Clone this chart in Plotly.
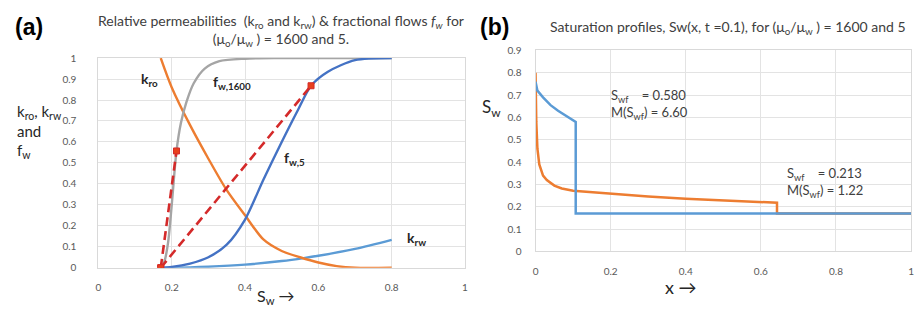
import plotly.graph_objects as go

# ---------- Panel (a) data ----------
kro_sw = [0.17, 0.2, 0.25, 0.3, 0.35, 0.4, 0.45, 0.5, 0.55, 0.6, 0.65, 0.7, 0.8]
kro_v  = [1.0, 0.86, 0.68, 0.52, 0.37, 0.25, 0.135, 0.08, 0.05, 0.025, 0.008, 0.0, 0.0]

krw_sw = [0.17, 0.25, 0.3, 0.4, 0.5, 0.56, 0.6, 0.7, 0.8]
krw_v  = [0.0, 0.002, 0.005, 0.015, 0.032, 0.046, 0.057, 0.09, 0.133]

fw1600_sw = [0.17, 0.18, 0.19, 0.2, 0.213, 0.225, 0.24, 0.26, 0.29, 0.33, 0.4, 0.5, 0.8]
fw1600_v  = [0.0, 0.03, 0.12, 0.3, 0.557, 0.69, 0.79, 0.88, 0.95, 0.985, 0.997, 1.0, 1.0]

fw5_sw = [0.17, 0.2, 0.25, 0.3, 0.35, 0.4, 0.45, 0.5, 0.545, 0.58, 0.626, 0.7, 0.8]
fw5_v  = [0.0, 0.004, 0.02, 0.05, 0.11, 0.23, 0.42, 0.6, 0.755, 0.868, 0.935, 0.99, 1.0]

tan1600_sw = [0.17, 0.213]
tan1600_v  = [0.0, 0.557]
tan5_sw = [0.17, 0.58]
tan5_v  = [0.0, 0.868]

# ---------- Panel (b) data ----------
prof5_x = [0.0, 0.005, 0.02, 0.04, 0.06, 0.08, 0.107, 0.107, 1.0]
prof5_v = [0.76, 0.72, 0.69, 0.655, 0.63, 0.61, 0.58, 0.17, 0.17]

prof1600_x = [0.0, 0.001, 0.002, 0.005, 0.01, 0.02, 0.03, 0.05, 0.07, 0.1, 0.15, 0.2,
              0.3, 0.4, 0.5, 0.6, 0.643, 0.643, 1.0]
prof1600_v = [0.8, 0.68, 0.58, 0.46, 0.39, 0.34, 0.32, 0.295, 0.282, 0.272, 0.265, 0.258,
              0.246, 0.236, 0.228, 0.221, 0.218, 0.17, 0.17]

ORANGE = "#ED7D31"
LBLUE = "#5B9BD5"
DBLUE = "#4472C4"
GREY = "#A5A5A5"
RED = "#D42A2A"
FONT = "Lato"

fig = go.Figure()

def add(x, y, color, xa, ya, shape="spline", width=2.4, dash="solid"):
    fig.add_trace(go.Scatter(x=x, y=y, mode="lines", xaxis=xa, yaxis=ya,
                             line=dict(color=color, width=width, shape=shape,
                                       smoothing=0.8 if shape == "spline" else None,
                                       dash=dash),
                             showlegend=False, hoverinfo="skip"))

add(krw_sw, krw_v, LBLUE, "x", "y")
add(kro_sw, kro_v, ORANGE, "x", "y")
add(fw1600_sw, fw1600_v, GREY, "x", "y")
add(fw5_sw, fw5_v, DBLUE, "x", "y")
for xs, ys in [(tan1600_sw, tan1600_v), (tan5_sw, tan5_v)]:
    fig.add_trace(go.Scatter(x=xs, y=ys, mode="lines+markers", xaxis="x", yaxis="y",
                             line=dict(color=RED, width=2.6, dash="9px,5px"),
                             marker=dict(color="#E8401C", size=6, symbol="square",
                                         line=dict(color=RED, width=1)),
                             showlegend=False, hoverinfo="skip"))

add(prof1600_x, prof1600_v, ORANGE, "x2", "y2", shape="linear", width=2.5)
add(prof5_x, prof5_v, LBLUE, "x2", "y2", shape="linear", width=2.5)

# page body has an 8px margin: draw on a 915x305 figure offset by 8px
OFF = 8
W, H = 915, 305
def px(v): return (v - OFF) / W
def py(v): return 1 - (v - OFF) / H

def axcommon(standoff):
    return dict(showgrid=True, gridcolor="#E3E3E3", gridwidth=1, zeroline=False,
                showline=True, linecolor="#D9D9D9", mirror=True, ticks="",
                ticklabelstandoff=standoff, tickformat="~g",
                tickfont=dict(family=FONT, size=10, color="#595959"))

fig.update_layout(
    width=W, height=H, margin=dict(l=0, r=0, t=0, b=0),
    paper_bgcolor="white", plot_bgcolor="white",
    xaxis=dict(domain=[px(96), px(465)], range=[0, 1], dtick=0.2, anchor="y",
               **axcommon(10)),
    yaxis=dict(domain=[py(272), py(53)], range=[0, 1], dtick=0.1, anchor="x",
               **axcommon(19)),
    xaxis2=dict(domain=[px(536), px(914)], range=[0, 1], dtick=0.2, anchor="y2",
                **axcommon(11)),
    yaxis2=dict(domain=[py(255), py(45)], range=[0, 0.9], dtick=0.1, anchor="x2",
                **axcommon(11)),
)

ann = []
def txt(text, x, y, size=12, xanchor="center", yanchor="middle", bold=False,
        ref="paper", xr=None, yr=None, color="#262626", align="center", family=FONT):
    d = dict(text=f"<b>{text}</b>" if bold else text, x=x, y=y, showarrow=False,
             xanchor=xanchor, yanchor=yanchor, align=align,
             font=dict(family=family, size=size, color=color))
    if ref == "paper":
        d.update(xref="paper", yref="paper")
    else:
        d.update(xref=xr, yref=yr)
    ann.append(d)

txt("(a)", px(10), py(21), size=23, xanchor="left", bold=True, color="black",
    family="Liberation Sans")
txt("(b)", px(478), py(21), size=23, xanchor="left", bold=True, color="black",
    family="Liberation Sans")
txt("Relative permeabilities  (k<sub>ro</sub> and k<sub>rw</sub>) &amp; fractional flows "
    "<i>f<sub>w</sub></i> for<br>(μ<sub>o</sub>/μ<sub>w</sub> ) = 1600 and 5.",
    px(280), py(24), size=14, color="#404040")
txt("Saturation profiles, Sw(x, t =0.1), for (μ<sub>o</sub>/μ<sub>w</sub> ) = 1600 and 5",
    px(730), py(21), size=14, color="#404040")
txt("k<sub>ro</sub>, k<sub>rw</sub><br>and<br>f<sub>w</sub>", px(12), py(130), size=15,
    xanchor="left", align="left")
txt("S<sub>w</sub> →", px(275), py(302), size=16)
txt("S<sub>w</sub>", px(492), py(105), size=17)
txt("x →", px(682), py(292), size=18)

txt("k<sub>ro</sub>", 0.14, 0.9, size=14, ref="data", xr="x", yr="y", bold=True)
txt("f<sub>w,1600</sub>", 0.365, 0.885, size=14, ref="data", xr="x", yr="y", bold=True)
txt("f<sub>w,5</sub>", 0.535, 0.52, size=14, ref="data", xr="x", yr="y", bold=True)
txt("k<sub>rw</sub>", 0.868, 0.14, size=14, ref="data", xr="x", yr="y", bold=True)

txt("S<sub>wf</sub>    = 0.580<br>M(S<sub>wf</sub>) = 6.60", 0.195, 0.66, size=13,
    ref="data", xr="x2", yr="y2", xanchor="left", align="left", color="#404040")
txt("S<sub>wf</sub>    = 0.213<br>M(S<sub>wf</sub>) = 1.22", 0.665, 0.308, size=13,
    ref="data", xr="x2", yr="y2", xanchor="left", align="left", color="#404040")

fig.update_layout(annotations=ann)
fig.write_html("out.html")
